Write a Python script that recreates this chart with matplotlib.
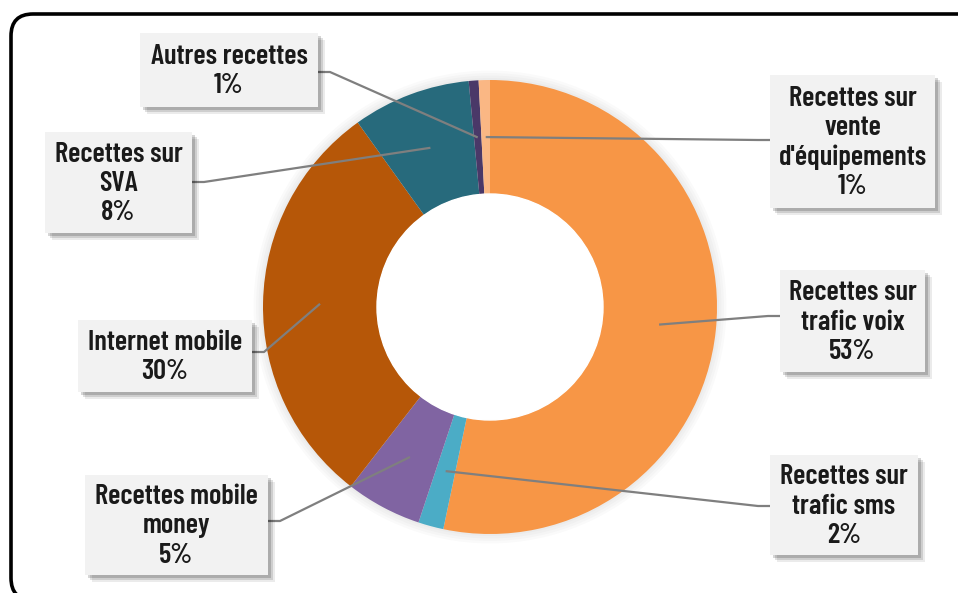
import matplotlib
matplotlib.use("Agg")
import matplotlib.pyplot as plt
from matplotlib.patches import Rectangle, FancyBboxPatch
import numpy as np

FAM = ['Barlow Condensed', 'Roboto Condensed', 'Archivo Narrow', 'DejaVu Sans']

categories = ["Recettes sur\ntrafic voix", "Recettes sur\ntrafic sms", "Recettes mobile\nmoney",
              "Internet mobile", "Recettes sur\nSVA", "Autres recettes", "Recettes sur\nvente\nd'équipements"]
values = [53.3, 1.8, 5.4, 29.6, 8.4, 0.7, 0.8]
colors = ["#F79646", "#4BACC6", "#8064A2", "#B65708", "#276A7C", "#4A3868", "#FAB784"]

W, H = 958, 593
fig = plt.figure(figsize=(W / 100, H / 100), dpi=100)
ax = fig.add_axes([0, 0, 1, 1])

def py(y):
    return H - y

# outer frame
frame = FancyBboxPatch((11, py(600)), 1000, 600 - 14, boxstyle="round,pad=0,rounding_size=22",
                       fc="white", ec="black", lw=2.6, zorder=0)
ax.add_patch(frame)

cx, cy, R, ring = 490, py(307), 227, 114
# soft glow around the ring
for i in range(4):
    ax.add_patch(plt.Circle((cx, cy), R + 2 + 2.5 * i, color="black", alpha=0.018, lw=0, zorder=1))

wedges, _ = ax.pie(values, colors=colors, startangle=90, counterclock=False,
                   center=(cx, cy), radius=R, wedgeprops=dict(width=ring, lw=0), frame=True)
ax.add_patch(plt.Circle((cx, cy), R - ring, color="white", zorder=2))
ax.set_xlim(0, W)
ax.set_ylim(0, H)
ax.set_aspect('equal')
ax.axis('off')

pct = [f"{round(v)}%" for v in values]

# label boxes: (left, top, right, bottom) in pixels
boxes = [
    (780, 270, 925, 372),
    (770, 455, 918, 555),
    (85, 475, 268, 575),
    (78, 320, 252, 392),
    (45, 132, 192, 233),
    (140, 33, 318, 107),
    (770, 75, 935, 208),
]
attach_y = [316, 506, 521, 352, 182, 72, 140]

rmid = R - ring / 2
for w, lab, p, b, ay in zip(wedges, categories, pct, boxes, attach_y):
    l, t, r, bt = b
    for k, al in [(7, 0.08), (5, 0.12), (3, 0.16)]:
        ax.add_patch(Rectangle((l + k, py(bt + k)), r - l, bt - t, fc="#000000", alpha=al, lw=0, zorder=4))
    ax.add_patch(Rectangle((l, py(bt)), r - l, bt - t, fc="#F2F2F2", ec="none", zorder=5))
    ax.text((l + r) / 2, py((t + bt) / 2) - 1, lab + "\n" + p, ha="center", va="center",
            fontsize=20.5, fontweight="semibold", family=FAM, color="#1a1a1a",
            linespacing=1.22, zorder=6)
    ang = np.deg2rad((w.theta1 + w.theta2) / 2)
    axp, ayp = cx + rmid * np.cos(ang), cy + rmid * np.sin(ang)
    if (l + r) / 2 > cx:
        ex, kx = l, l - 12
    else:
        ex, kx = r, r + 12
    ax.plot([axp, kx, ex], [ayp, py(ay), py(ay)], color="#7F7F7F", lw=1.6, zorder=3,
            solid_capstyle="butt")

fig.savefig("out.png", dpi=100)
